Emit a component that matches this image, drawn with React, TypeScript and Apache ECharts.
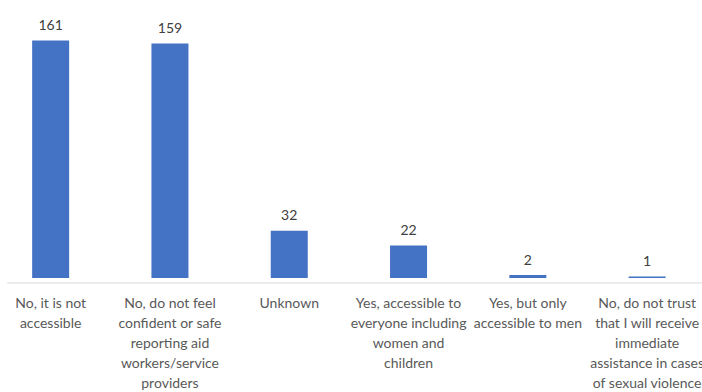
import React, { useEffect, useRef } from "react";
import * as echarts from "echarts";

const categories: string[] = [
  "No, it is not\naccessible",
  "No, do not feel\nconfident or safe\nreporting aid\nworkers/service\nproviders",
  "Unknown",
  "Yes, accessible to\neveryone including\nwomen and\nchildren",
  "Yes, but only\naccessible to men",
  "No, do not trust\nthat I will receive\nimmediate\nassistance in cases\nof sexual violence",
];
const values: number[] = [161, 159, 32, 22, 2, 1];

const OFFSET = 9.2;
const CHART_W = 716.4;

export default function App() {
  const ref = useRef<HTMLDivElement>(null);
  useEffect(() => {
    if (!ref.current) return;
    const chart = echarts.init(ref.current, null, { renderer: "svg" });
    chart.setOption({
      animation: false,
      textStyle: { fontFamily: "Lato" },
      grid: { left: 0, right: 0, top: 12.4, bottom: 109, containLabel: false },
      xAxis: {
        type: "category",
        data: categories,
        axisLine: { show: false },
        axisTick: { show: false },
        axisLabel: {
          interval: 0,
          color: "#595959",
          fontSize: 14,
          lineHeight: 20,
          margin: 14,
          fontFamily: "Lato",
        },
      },
      yAxis: {
        type: "value",
        min: 0,
        max: 180,
        show: false,
        splitLine: { show: false },
      },
      graphic: [
        {
          type: "line",
          shape: { x1: 7 + OFFSET, y1: 283, x2: 702 + OFFSET, y2: 283 },
          style: { stroke: "#d9d9d9", lineWidth: 1 },
          z: -1,
        },
      ],
      series: [
        {
          type: "bar",
          data: values,
          barWidth: 37,
          itemStyle: { color: "#4472C4" },
          label: {
            show: true,
            position: "top",
            distance: 9,
            color: "#404040",
            fontSize: 14,
            fontFamily: "Lato",
          },
        },
      ],
    });
    return () => chart.dispose();
  }, []);
  return (
    <div style={{ position: "absolute", left: 0, top: 0, width: 702, height: 392, overflow: "hidden", background: "#fff" }}>
      <div ref={ref} style={{ position: "absolute", left: -OFFSET, top: 0, width: CHART_W, height: 392 }} />
    </div>
  );
}
